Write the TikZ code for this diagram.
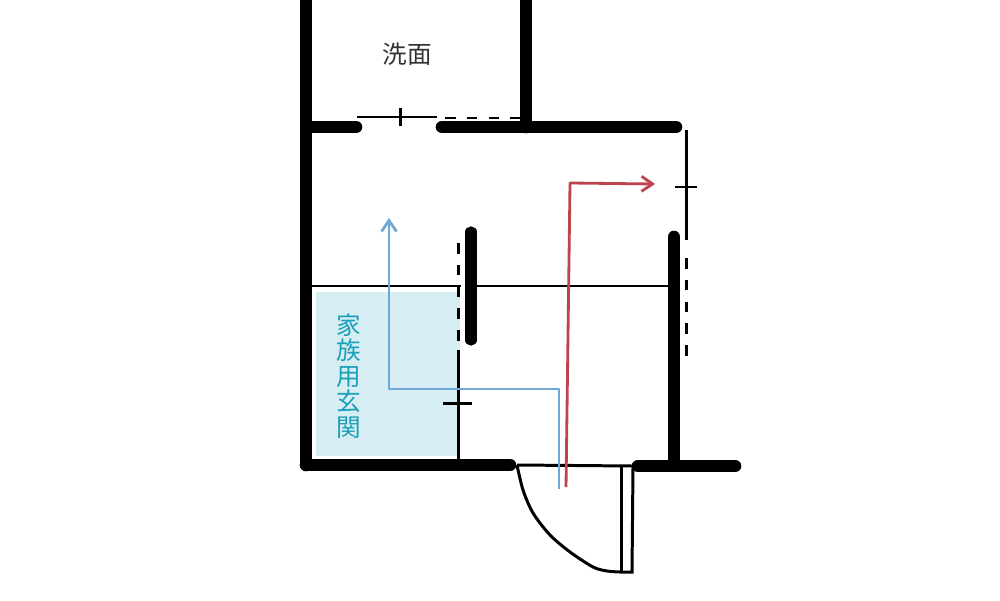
\documentclass[tikz,border=0pt]{standalone}
\usepackage{fontspec}
\newfontfamily\cjk{Noto Sans CJK JP}
\usepackage{tikz}
\usetikzlibrary{arrows.meta,positioning}

\definecolor{hallfill}{HTML}{D6EEF3}
\definecolor{halltext}{HTML}{1A9FB8}
\definecolor{bluepath}{HTML}{6FA8D6}
\definecolor{redpath}{HTML}{BE434F}

\tikzset{
  wall/.style = {line width = 3.6pt, line cap = round},
  thinwall/.style = {line width = 3.2pt, line cap = round},
  fine/.style = {line width = 0.85pt},
  slide/.style = {line width = 0.85pt, dash pattern = on 3pt off 3.2pt},
  route/.style = {line width = 0.8pt, line join = round, -{Straight Barb[length = 1.1mm, width = 1.5mm]}},
  label/.style = {font = \cjk\fontsize{7}{7.3}\selectfont, inner sep = 0pt, align = center}
}

\begin{document}
\begin{tikzpicture}
\useasboundingbox (0, 0) rectangle (10, 6);

\fill[hallfill] (3.16, 3.08) rectangle (4.60, 1.44);

\node (sink) at (4.07, 5.46) [label, text = black!80] {洗面};
\node (entry) at (3.49, 2.24) [label, text = halltext] {家\\族\\用\\玄\\関};

% walls
\draw[wall] (3.06, 6.10) -- (3.06, 1.35);
\draw[wall] (3.10, 4.73) -- (3.56, 4.73);
\draw[wall] (4.42, 4.73) -- (6.76, 4.73);
\draw[wall] (5.26, 6.10) -- (5.26, 4.73);
\draw[thinwall] (4.71, 3.68) -- (4.71, 2.60);
\draw[wall] (6.74, 3.63) -- (6.74, 1.35);
\draw[wall] (3.06, 1.35) -- (5.10, 1.35);
\draw[wall] (6.38, 1.34) -- (7.35, 1.34);

% door between rooms
\draw[fine] (3.57, 4.83) -- (4.37, 4.83);
\draw[fine] (4.00, 4.92) -- (4.00, 4.74);
\draw[slide] (4.45, 4.82) -- (5.20, 4.82);

% door on the right
\draw[fine] (6.86, 4.70) -- (6.86, 3.60);
\draw[fine] (6.75, 4.13) -- (6.97, 4.13);
\draw[slide] (6.86, 3.42) -- (6.86, 2.42);

% door of the hall
\draw[slide] (4.58, 3.57) -- (4.58, 2.55);
\draw[fine] (4.58, 2.50) -- (4.58, 1.40);
\draw[fine] (4.43, 1.97) -- (4.72, 1.97);
\draw[fine] (3.12, 3.14) -- (4.61, 3.14);
\draw[fine] (4.76, 3.14) -- (6.68, 3.14);

% front door
\draw[fine] (5.17, 1.35) -- (6.33, 1.34);
\draw[fine] (6.21, 1.34) -- (6.21, 0.28);
\draw[fine] (6.33, 1.34) -- (6.32, 0.28) -- (6.20, 0.28);
\draw[fine] plot[smooth] coordinates {(5.17, 1.35) (5.23, 1.10) (5.33, 0.87) (5.50, 0.65) (5.70, 0.48) (5.93, 0.33) (6.07, 0.29) (6.20, 0.28)};

% routes
\draw[route, bluepath] (5.59, 1.11) -- (5.59, 2.11) -- (3.89, 2.11) -- (3.89, 3.82);
\draw[route, redpath] (5.66, 1.13) -- (5.70, 4.17) -- (6.55, 4.16);
\end{tikzpicture}
\end{document}
